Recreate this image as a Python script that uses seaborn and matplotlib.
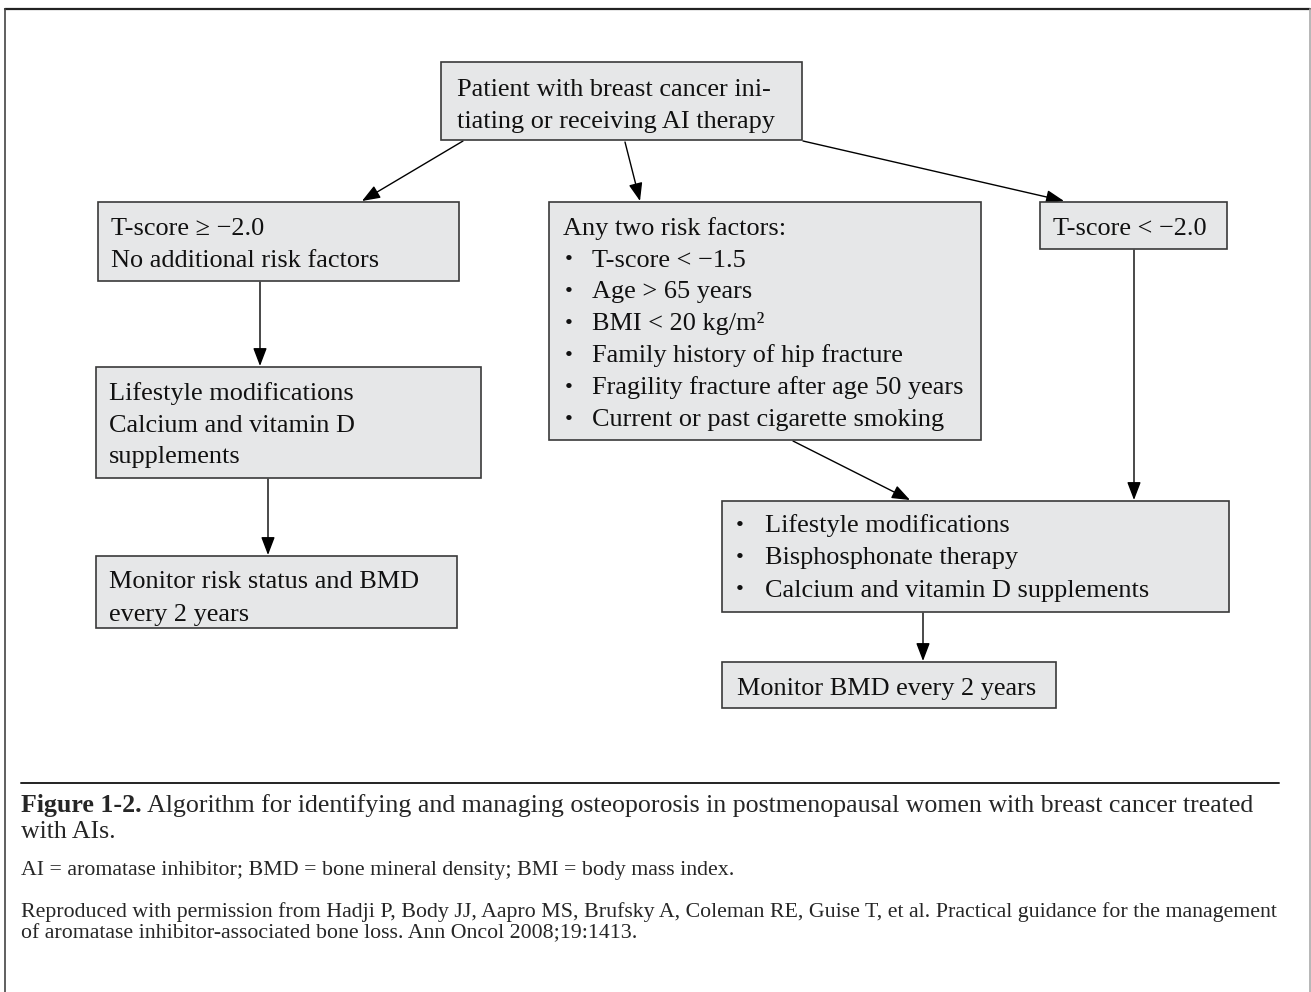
import matplotlib.pyplot as plt
from matplotlib.patches import Rectangle
import seaborn as sns

# ---- text content of the flowchart ----
start_lines = ["Patient with breast cancer ini-", "tiating or receiving AI therapy"]
low_risk_lines = ["T-score ≥ −2.0", "No additional risk factors"]
risk_header = "Any two risk factors:"
risk_factors = ["T-score < −1.5", "Age > 65 years", "BMI < 20 kg/m²",
                "Family history of hip fracture", "Fragility fracture after age 50 years",
                "Current or past cigarette smoking"]
high_risk_lines = ["T-score < −2.0"]
lifestyle_lines = ["Lifestyle modifications", "Calcium and vitamin D", "supplements"]
monitor_risk_lines = ["Monitor risk status and BMD", "every 2 years"]
treatment_items = ["Lifestyle modifications", "Bisphosphonate therapy",
                   "Calcium and vitamin D supplements"]
monitor_bmd_lines = ["Monitor BMD every 2 years"]

caption_bold = "Figure 1-2."
caption_rest = " Algorithm for identifying and managing osteoporosis in postmenopausal women with breast cancer treated"
caption_line2 = "with AIs."
abbrev_line = "AI = aromatase inhibitor; BMD = bone mineral density; BMI = body mass index."
source_lines = ["Reproduced with permission from Hadji P, Body JJ, Aapro MS, Brufsky A, Coleman RE, Guise T, et al. Practical guidance for the management",
                "of aromatase inhibitor-associated bone loss. Ann Oncol 2008;19:1413."]

sns.set_theme(style="white")
plt.rcParams['font.family'] = ['Liberation Serif', 'DejaVu Serif']

FILL = '#e6e7e8'
EDGE = '#3a3a3a'

fig = plt.figure(figsize=(13.11, 9.92), dpi=100)
ax = fig.add_axes([0, 0, 1, 1])
ax.set_xlim(0, 1311)
ax.set_ylim(992, 0)
ax.axis('off')
renderer = fig.canvas.get_renderer()


def text_width(s, size, weight='normal'):
    t = ax.text(0, 0, s, fontsize=size, fontweight=weight)
    w = t.get_window_extent(renderer).width
    t.remove()
    return w


def fit_size(s, width, weight='normal'):
    return 20 * width / text_width(s, 20, weight)


box_fs = fit_size("Fragility fracture after age 50 years", 372)


def box(x0, y0, x1, y1):
    ax.add_patch(Rectangle((x0, y0), x1 - x0, y1 - y0, facecolor=FILL,
                           edgecolor=EDGE, lw=1.2, zorder=2))


def lines(x, baselines, items, bullet_x=None):
    for y, s in zip(baselines, items):
        if bullet_x is not None:
            ax.text(bullet_x, y - 6, "•", fontsize=box_fs * 0.85, va='center',
                    ha='center', color='#111111', zorder=3)
        ax.text(x, y, s, fontsize=box_fs, va='baseline', color='#111111', zorder=3)


def arrow(start, tip):
    ax.annotate('', xy=tip, xytext=start, zorder=1,
                arrowprops=dict(arrowstyle='-|>,head_length=1.1,head_width=0.42',
                                color='black', lw=1.0, shrinkA=0, shrinkB=0,
                                mutation_scale=10))


# outer frame
ax.plot([5, 1310], [9, 9], color='#222222', lw=1.6)
ax.plot([5, 5], [9, 992], color='#444444', lw=1.2)
ax.plot([1310, 1310], [9, 992], color='#aaaaaa', lw=1.2)

# boxes
box(441, 62, 802, 140)
lines(457, [96, 128], start_lines)

box(98, 202, 459, 281)
lines(111, [235, 267], low_risk_lines)

box(549, 202, 981, 440)
ax.text(563, 235, risk_header, fontsize=box_fs, va='baseline', color='#111111', zorder=3)
lines(592, [267, 298, 330, 362, 394, 426], risk_factors, bullet_x=569)

box(1040, 202, 1227, 249)
lines(1053, [235], high_risk_lines)

box(96, 367, 481, 478)
lines(109, [400, 432, 463], lifestyle_lines)

box(96, 556, 457, 628)
lines(109, [588, 621], monitor_risk_lines)

box(722, 501, 1229, 612)
lines(765, [532, 564, 597], treatment_items, bullet_x=740)

box(722, 662, 1056, 708)
lines(737, [695], monitor_bmd_lines)

# arrows
arrow((463, 141), (362, 201))
arrow((625, 142), (640, 201))
arrow((803, 141), (1064, 201))
arrow((260, 282), (260, 366))
arrow((268, 479), (268, 555))
arrow((793, 441), (910, 500))
arrow((1134, 250), (1134, 500))
arrow((923, 613), (923, 661))

# caption
ax.plot([21, 1279], [783, 783], color='#222222', lw=1.4)

cap_fs = 20 * 1233 / (text_width(caption_bold, 20, 'bold') + text_width(caption_rest, 20))
tb = ax.text(21, 812, caption_bold, fontsize=cap_fs, fontweight='bold', va='baseline')
wb = tb.get_window_extent(renderer).width
ax.text(21 + wb, 812, caption_rest, fontsize=cap_fs, va='baseline')
ax.text(21, 838, caption_line2, fontsize=cap_fs, va='baseline')

small_fs = fit_size(source_lines[0], 1258)
ax.text(21, 875, abbrev_line, fontsize=small_fs, va='baseline')
ax.text(21, 917, source_lines[0], fontsize=small_fs, va='baseline')
ax.text(21, 938, source_lines[1], fontsize=small_fs, va='baseline')

fig.savefig("out.png", dpi=100)
